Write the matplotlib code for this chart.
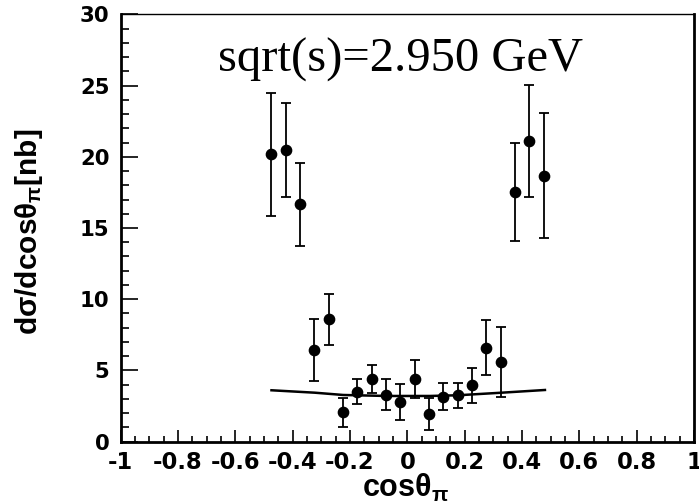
import numpy as np
import matplotlib
matplotlib.use("Agg")
import matplotlib.pyplot as plt
from matplotlib.ticker import MultipleLocator, FixedLocator

plt.rcParams['mathtext.fontset'] = 'custom'
plt.rcParams['mathtext.rm'] = 'Liberation Sans:bold'
plt.rcParams['mathtext.it'] = 'Liberation Sans:bold'
plt.rcParams['mathtext.bf'] = 'Liberation Sans:bold'
plt.rcParams['mathtext.sf'] = 'Liberation Sans:bold'

# ---- data ----
cos_pi = [-0.475, -0.425, -0.375, -0.325, -0.275, -0.225, -0.175, -0.125, -0.075, -0.025,
          0.025, 0.075, 0.125, 0.175, 0.225, 0.275, 0.325, 0.375, 0.425, 0.475]
dsigma = [20.17, 20.45, 16.66, 6.44, 8.59, 2.06, 3.51, 4.38, 3.30, 2.79,
          4.40, 1.94, 3.16, 3.26, 3.96, 6.60, 5.59, 17.54, 21.12, 18.67]
dsigma_err = [4.30, 3.30, 2.90, 2.15, 1.80, 1.02, 0.87, 0.99, 1.11, 1.27,
              1.36, 1.11, 0.95, 0.86, 1.24, 1.91, 2.45, 3.43, 3.93, 4.40]

curve_x = [-0.474, -0.323, -0.224, -0.073, 0.079, 0.177, 0.329, 0.480]
curve_y = [3.61, 3.44, 3.28, 3.21, 3.21, 3.26, 3.44, 3.63]

xticks = [-1, -0.8, -0.6, -0.4, -0.2, 0, 0.2, 0.4, 0.6, 0.8, 1]
xticklabels = ['-1', '-0.8', '-0.6', '-0.4', '-0.2', '0', '0.2', '0.4', '0.6', '0.8', '1']
yticks = [0, 5, 10, 15, 20, 25, 30]
yticklabels = ['0', '5', '10', '15', '20', '25', '30']

title_text = 'sqrt(s)=2.950 GeV'
xlabel_text = r'cos$\theta_{\pi}$'
ylabel_text = r'd$\sigma$/dcos$\theta_{\pi}$[nb]'

# ---- figure ----
W, H = 699, 503
fig = plt.figure(figsize=(W / 100, H / 100), dpi=100)
L, R, T, B = 120.7, 694.0, 14.3, 441.7
ax = fig.add_axes([L / W, 1 - B / H, (R - L) / W, (B - T) / H])

ax.plot(curve_x, curve_y, color='black', lw=1.8, zorder=2)
ax.errorbar(cos_pi, dsigma, yerr=dsigma_err, fmt='o', color='black', ms=7.4,
            elinewidth=1.3, capsize=3.4, capthick=1.3, zorder=3)

ax.set_xlim(-1, 1)
ax.set_ylim(0, 30)

ax.xaxis.set_major_locator(FixedLocator(xticks))
ax.xaxis.set_minor_locator(MultipleLocator(0.05))
ax.yaxis.set_major_locator(FixedLocator(yticks))
ax.yaxis.set_minor_locator(MultipleLocator(1))
ax.set_xticklabels(xticklabels)
ax.set_yticklabels(yticklabels)

for lbl in ax.get_xticklabels():
    lbl.set_fontfamily('DejaVu Sans')
    lbl.set_fontweight('bold')
    lbl.set_fontsize(16.3)
for lbl in ax.get_yticklabels():
    lbl.set_fontfamily('DejaVu Sans')
    lbl.set_fontweight('bold')
    lbl.set_fontsize(15.3)

ax.tick_params(axis='x', which='major', direction='in', length=8.6, width=1.2, pad=6.5)
ax.tick_params(axis='x', which='minor', direction='in', length=4.3, width=1.2)
ax.tick_params(axis='y', which='major', direction='in', length=12.2, width=1.2, pad=8)
ax.tick_params(axis='y', which='minor', direction='in', length=6.1, width=1.2)

ax.spines['left'].set_linewidth(2)
ax.spines['bottom'].set_linewidth(2)
ax.spines['right'].set_linewidth(2)
ax.spines['top'].set_linewidth(1)

ax.text(0.17, 0.865, title_text, transform=ax.transAxes, family='Liberation Serif',
        fontsize=35, ha='left', va='baseline')

fig.text(405 / W, 1 - 488 / H, xlabel_text, ha='center', va='center', fontsize=22,
         family='Liberation Sans', fontweight='bold')
fig.text(29 / W, 1 - 232 / H, ylabel_text, ha='center', va='center', fontsize=21.5,
         rotation=90, family='Liberation Sans', fontweight='bold')

fig.savefig('out.png', dpi=100)
